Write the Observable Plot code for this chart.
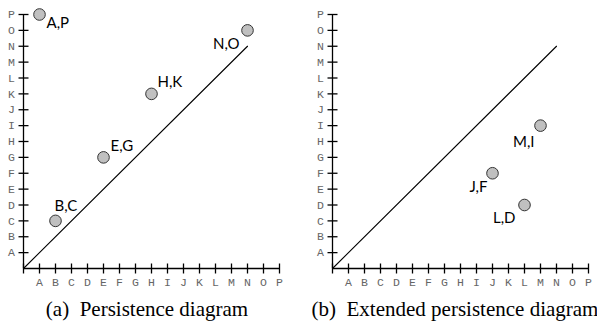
<!DOCTYPE html>
<html>
<head>
<meta charset="utf-8">
<script src="https://cdn.jsdelivr.net/npm/d3@7"></script>
<script src="https://cdn.jsdelivr.net/npm/@observablehq/plot@0.6"></script>
<style>
  html, body { margin: 0; background: #fff; overflow: hidden; }
  .row { display: flex; width: 597px; }
  #pa { width: 300px; flex: none; }
  #pb { width: 297px; flex: none; }
  .caprow { display: flex; width: 597px; margin-top: 7px; }
  .cap { flex: none; font-family: "Liberation Serif", "Times New Roman", serif; font-size: 21px; line-height: 24px; white-space: pre; text-align: center; color: #000; }
</style>
</head>
<body>
<div class="row">
  <div id="pa"></div>
  <div id="pb"></div>
</div>
<div class="caprow">
  <div class="cap" style="width:294px">(a)  Persistence diagram</div>
  <div class="cap" style="width:310px;margin-left:6px">(b)  Extended persistence diagram</div>
</div>
<script>
const tickLabels = ["A","B","C","D","E","F","G","H","I","J","K","L","M","N","O","P"];
const diagonalEnd = "N";

// (a) persistence diagram: birth, death
const pdBirth = ["A","N","H","E","B"];
const pdDeath = ["P","O","K","G","C"];

// (b) extended persistence diagram
const epBirth = ["M","J","L"];
const epDeath = ["I","F","D"];

const idx = (l) => tickLabels.indexOf(l) + 1;

// label placement (style only)
const pdLabelStyle = [
  {dx: 7, dy: 9, anchor: "start"},
  {dx: -8, dy: 14, anchor: "end"},
  {dx: 6, dy: -12, anchor: "start"},
  {dx: 7, dy: -11, anchor: "start"},
  {dx: -1, dy: -15, anchor: "start"}
];
const epLabelStyle = [
  {dx: -6, dy: 17, anchor: "end"},
  {dx: -5, dy: 14, anchor: "end"},
  {dx: -9, dy: 13, anchor: "end"}
];

const TICK = 5; // tick half-length in pixels

function panel(births, deaths, styles, opts) {
  const pts = births.map((b, i) => ({x: idx(b), y: idx(deaths[i]), label: b + "," + deaths[i], s: styles[i]}));
  const n = idx(diagonalEnd);
  const N = tickLabels.length;
  const H = 290, mT = 14, mB = 22;
  const diag = [{x: 0, y: 0}, {x: n, y: n}];
  const xt = d3.range(0, N + 1);
  const yt = d3.range(1, N + 1);
  // tick half-length converted to data units
  const hx = TICK * N / (opts.width - opts.marginLeft - opts.marginRight);
  const hy = TICK * N / (H - mT - mB);
  const tickFont = {fontFamily: "'Liberation Mono', 'DejaVu Sans Mono', monospace", fontSize: 11.5, fill: "#666"};
  const axisStyle = {stroke: "#000", strokeWidth: 1.3};
  const marks = [
    Plot.text(yt, {x: (d) => d, y: () => 0, dy: 14, text: (d) => tickLabels[d - 1], ...tickFont}),
    Plot.text(yt, {x: () => 0, y: (d) => d, dx: -12, text: (d) => tickLabels[d - 1], ...tickFont}),
    Plot.line(diag, {x: "x", y: "y", stroke: "#000", strokeWidth: 1.1}),
    Plot.ruleX([0], {y1: 0, y2: N, ...axisStyle}),
    Plot.ruleY([0], {x1: 0, x2: N, ...axisStyle}),
    Plot.link(xt, {x1: (d) => d, x2: (d) => d, y1: () => -hy, y2: () => hy, ...axisStyle}),
    Plot.link(yt, {x1: () => -hx, x2: () => hx, y1: (d) => d, y2: (d) => d, ...axisStyle}),
    Plot.dot(pts, {x: "x", y: "y", r: 5.8, fill: "#c0c0c0", stroke: "#333", strokeWidth: 1}),
    ...pts.map((p) => Plot.text([p], {x: "x", y: "y", text: "label", dx: p.s.dx, dy: p.s.dy, textAnchor: p.s.anchor,
      fontFamily: "Lato, 'Open Sans', sans-serif", fontSize: 15, fill: "#000"}))
  ];
  const svg = Plot.plot({
    width: opts.width,
    height: H,
    marginLeft: opts.marginLeft,
    marginRight: opts.marginRight,
    marginTop: mT,
    marginBottom: mB,
    x: {domain: [0, N], axis: null},
    y: {domain: [0, N], axis: null},
    style: {background: "transparent", overflow: "visible", maxWidth: "none"},
    marks
  });
  svg.style.display = "block";
  return svg;
}

document.getElementById("pa").append(panel(pdBirth, pdDeath, pdLabelStyle, {width: 300, marginLeft: 23, marginRight: 21}));
document.getElementById("pb").append(panel(epBirth, epDeath, epLabelStyle, {width: 297, marginLeft: 32, marginRight: 9}));
</script>
</body>
</html>
